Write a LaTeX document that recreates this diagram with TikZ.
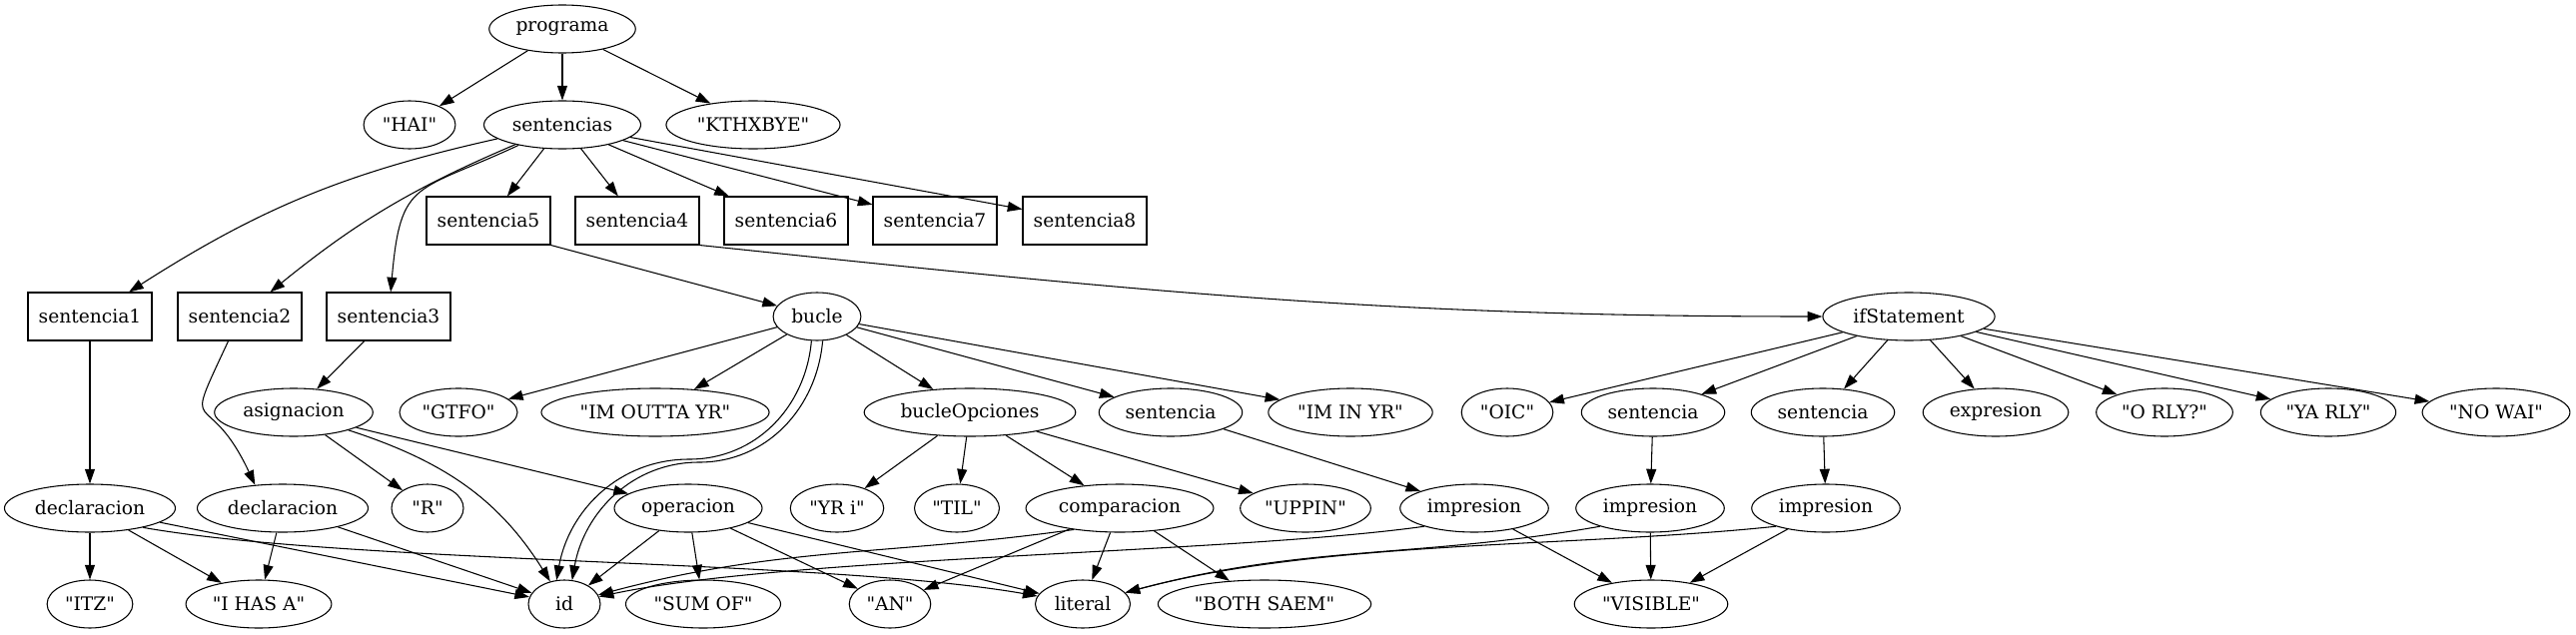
\documentclass[tikz,border=0pt]{standalone}
\usepackage{fontspec}
\setmainfont{DejaVu Serif}[Ligatures=TeXOff]
\usetikzlibrary{shapes.geometric,arrows.meta}

\begin{document}
\begin{tikzpicture}[x=0.75pt,y=0.75pt,
    every node/.append style={font=\fontsize{14}{16}\selectfont},
    nd/.style={draw,ellipse,line width=0.8pt,inner xsep=4pt,inner ysep=2pt,minimum width=54pt,minimum height=36pt},
    bx/.style={draw,rectangle,line width=0.8pt,inner xsep=8pt,minimum height=36pt},
    >={Triangle[length=11pt,width=7.5pt]}]
    \useasboundingbox (0,0) rectangle (2579,-635);
    % level 0 and 1
    \node[nd] (programa)   at ( 563,-29)  {programa};
    \node[nd] (hai)        at ( 410,-125) {"HAI"};
    \node[nd] (sentencias) at ( 563,-125) {sentencias};
    \node[nd] (kthxbye)    at ( 754,-125) {"KTHXBYE"};
    % sentencia boxes
    \node[bx] (s5) at ( 489,-221) {sentencia5};
    \node[bx] (s4) at ( 638,-221) {sentencia4};
    \node[bx] (s6) at ( 787,-221) {sentencia6};
    \node[bx] (s7) at ( 936,-221) {sentencia7};
    \node[bx] (s8) at (1086,-221) {sentencia8};
    \node[bx] (s1) at (  90,-317) {sentencia1};
    \node[bx] (s2) at ( 240,-317) {sentencia2};
    \node[bx] (s3) at ( 389,-317) {sentencia3};
    \node[nd] (bucle) at ( 818,-317) {bucle};
    \node[nd] (ifst)  at (1911,-317) {ifStatement};
    % row 4
    \node[nd] (asig)   at ( 294,-413) {asignacion};
    \node[nd] (gtfo)   at ( 459,-413) {"GTFO"};
    \node[nd] (outta)  at ( 656,-413) {"IM OUTTA YR"};
    \node[nd] (bopc)   at ( 971,-413) {bucleOpciones};
    \node[nd] (sentb)  at (1172,-413) {sentencia};
    \node[nd] (inyr)   at (1352,-413) {"IM IN YR"};
    \node[nd] (oic)    at (1509,-413) {"OIC"};
    \node[nd] (senti1) at (1655,-413) {sentencia};
    \node[nd] (senti2) at (1825,-413) {sentencia};
    \node[nd] (expr)   at (1998,-413) {expresion};
    \node[nd] (orly)   at (2167,-413) {"O RLY?"};
    \node[nd] (yarly)  at (2331,-413) {"YA RLY"};
    \node[nd] (nowai)  at (2499,-413) {"NO WAI"};
    % row 5
    \node[nd] (decl1) at (  90,-509) {declaracion};
    \node[nd] (decl2) at ( 283,-509) {declaracion};
    \node[nd] (r)     at ( 428,-509) {"R"};
    \node[nd] (oper)  at ( 689,-509) {operacion};
    \node[nd] (yri)   at ( 838,-509) {"YR i"};
    \node[nd] (til)   at ( 958,-509) {"TIL"};
    \node[nd] (comp)  at (1121,-509) {comparacion};
    \node[nd] (uppin) at (1307,-509) {"UPPIN"};
    \node[nd] (impr1) at (1476,-509) {impresion};
    \node[nd] (impr2) at (1652,-509) {impresion};
    \node[nd] (impr3) at (1828,-509) {impresion};
    % leaves
    \node[nd] (itz)      at (  90,-605) {"ITZ"};
    \node[nd] (ihasa)    at ( 259,-605) {"I HAS A"};
    \node[nd] (id)       at ( 565,-605) {id};
    \node[nd] (sumof)    at ( 704,-605) {"SUM OF"};
    \node[nd] (an)       at ( 891,-605) {"AN"};
    \node[nd] (literal)  at (1084,-605) {literal};
    \node[nd] (bothsaem) at (1266,-605) {"BOTH SAEM"};
    \node[nd] (visible)  at (1653,-605) {"VISIBLE"};
    % where the two bucle -> id edges turn
    \coordinate (loopa) at (690,-460);
    \coordinate (loopb) at (700,-463);

    \begin{scope}[every path/.append style={->,line width=0.8pt}]
      \draw (programa) -- (hai);
      \draw (programa) -- (sentencias);
      \draw (programa) -- (kthxbye);
      \draw (sentencias) to[bend right=10] (s1);
      \draw (sentencias) to[bend right=8] (s2);
      \draw (sentencias) to[out=205,in=85,looseness=1.5] (s3);
      \draw (sentencias) -- (s5);
      \draw (sentencias) -- (s4);
      \draw (sentencias) -- (s6);
      \draw (sentencias) -- (s7);
      \draw (sentencias) -- (s8);
      \draw (s1) -- (decl1);
      \draw (s2) to[out=245,in=115,looseness=2] (decl2.140);
      \draw (s3) -- (asig);
      \draw (s5.south east) -- (bucle);
      \draw (s4.south east) to[out=-6,in=180] (ifst.west);
      % declaraciones
      \draw (decl1) -- (itz);
      \draw (decl1) -- (ihasa);
      \draw (decl1) -- (id);
      \draw (decl1.-20) to[out=-10,in=170,looseness=0.6] (literal);
      \draw (decl2) -- (ihasa);
      \draw (decl2) -- (id);
      % asignacion
      \draw (asig) -- (r);
      \draw (asig) -- (oper);
      \draw (asig) to[out=-18,in=122] (id);
      \draw (oper) -- (id);
      \draw (oper) -- (sumof);
      \draw (oper) -- (an);
      \draw (oper) -- (literal);
      % bucle
      \draw (bucle) -- (gtfo);
      \draw (bucle) -- (outta);
      \draw[-] (bucle.257) to[out=-95,in=0] (loopa);
      \draw (loopa) to[out=180,in=80] (id.108);
      \draw[-] (bucle.283) to[out=-95,in=0] (loopb);
      \draw (loopb) to[out=180,in=80] (id.72);
      \draw (bucle) -- (bopc);
      \draw (bucle) -- (sentb);
      \draw (bucle) -- (inyr);
      \draw (bopc) -- (yri);
      \draw (bopc) -- (til);
      \draw (bopc) -- (comp);
      \draw (bopc) -- (uppin);
      \draw (comp.205) to[out=188,in=15] (id);
      \draw (comp) -- (an);
      \draw (comp) -- (literal);
      \draw (comp) -- (bothsaem);
      \draw (sentb) -- (impr1);
      \draw (impr1.200) to[out=188,in=12,looseness=0.6] (id);
      \draw (impr1) -- (visible);
      % ifStatement
      \draw (ifst) -- (oic);
      \draw (ifst) -- (senti1);
      \draw (ifst) -- (senti2);
      \draw (ifst) -- (expr);
      \draw (ifst) -- (orly);
      \draw (ifst) -- (yarly);
      \draw (ifst) -- (nowai);
      \draw (senti1) -- (impr2);
      \draw (senti2) -- (impr3);
      \draw (impr2.200) to[out=190,in=15] (literal);
      \draw (impr2) -- (visible);
      \draw (impr3.200) to[out=186,in=15,looseness=0.8] (literal);
      \draw (impr3) -- (visible);
    \end{scope}
\end{tikzpicture}
\end{document}
